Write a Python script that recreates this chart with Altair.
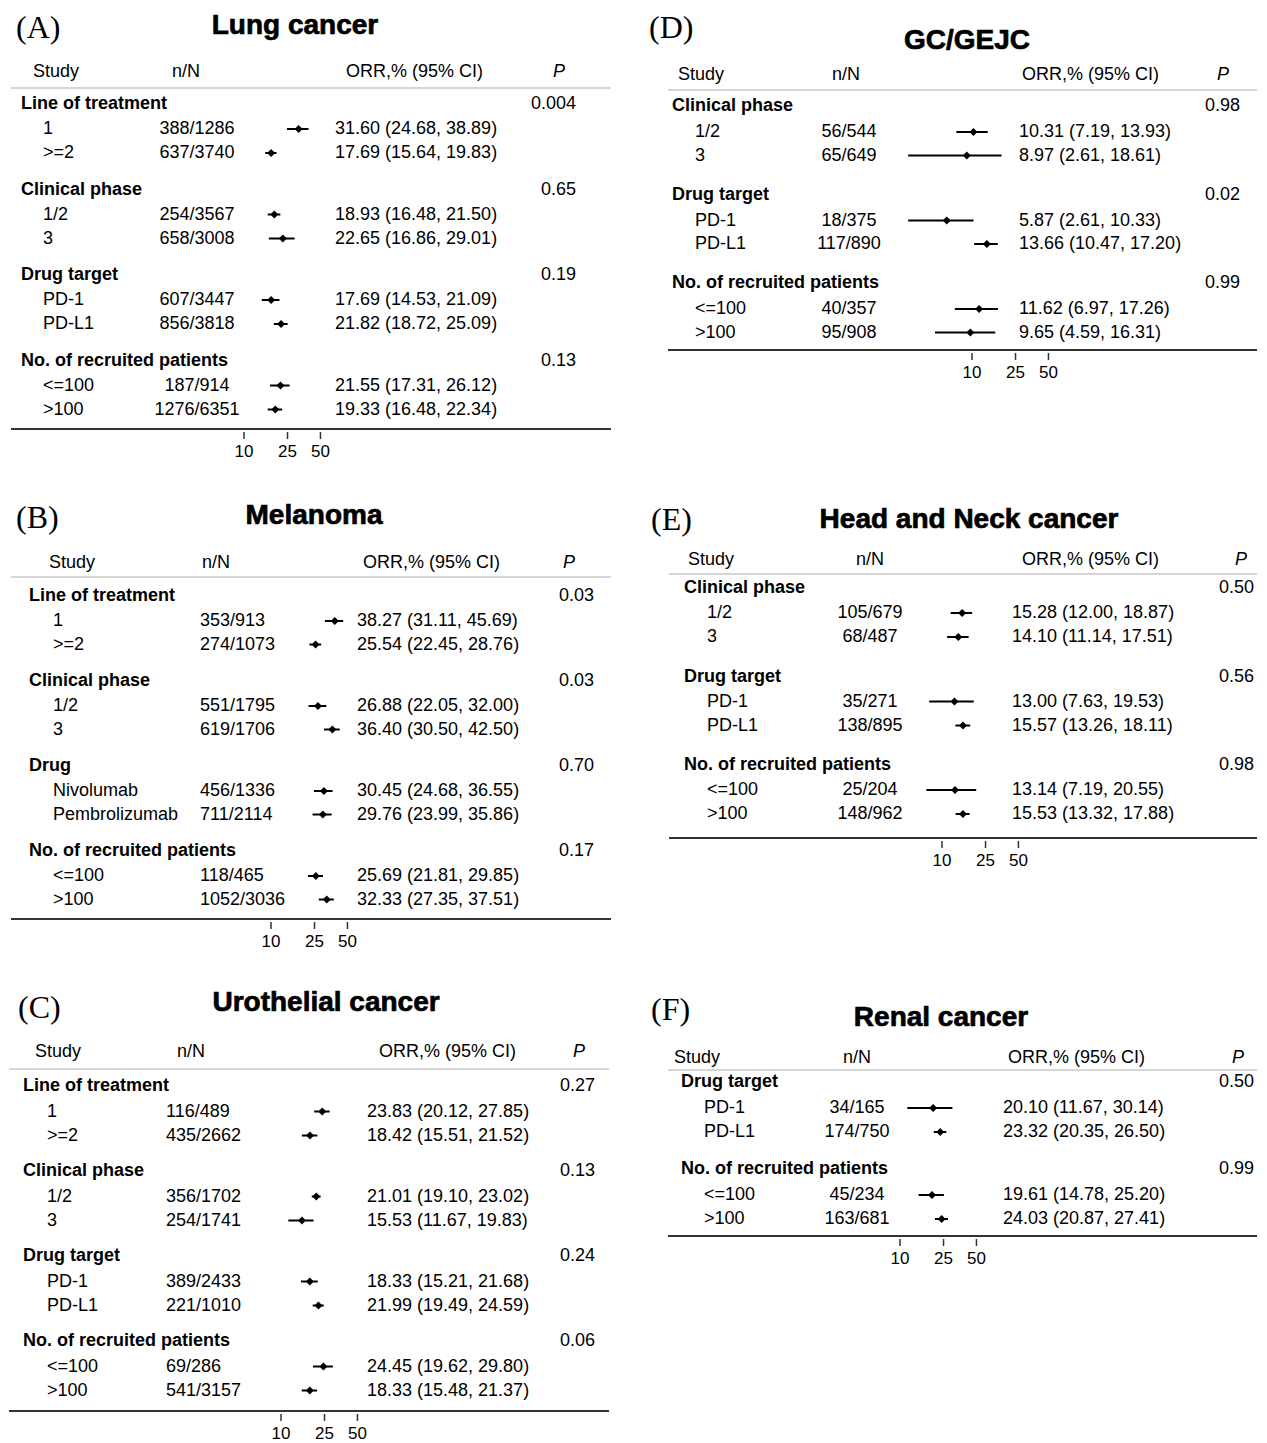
import math
import altair as alt
import pandas as pd

# ------------------------------------------------------------------ data
A_title = "Lung cancer"
A_groups = ["Line of treatment", "Clinical phase", "Drug target", "No. of recruited patients"]
A_pvals = ["0.004", "0.65", "0.19", "0.13"]
A_items = ["1", ">=2", "1/2", "3", "PD-1", "PD-L1", "<=100", ">100"]
A_nN = ["388/1286", "637/3740", "254/3567", "658/3008", "607/3447", "856/3818", "187/914", "1276/6351"]
A_orr = [31.60, 17.69, 18.93, 22.65, 17.69, 21.82, 21.55, 19.33]
A_lo = [24.68, 15.64, 16.48, 16.86, 14.53, 18.72, 17.31, 16.48]
A_hi = [38.89, 19.83, 21.50, 29.01, 21.09, 25.09, 26.12, 22.34]

B_title = "Melanoma"
B_groups = ["Line of treatment", "Clinical phase", "Drug", "No. of recruited patients"]
B_pvals = ["0.03", "0.03", "0.70", "0.17"]
B_items = ["1", ">=2", "1/2", "3", "Nivolumab", "Pembrolizumab", "<=100", ">100"]
B_nN = ["353/913", "274/1073", "551/1795", "619/1706", "456/1336", "711/2114", "118/465", "1052/3036"]
B_orr = [38.27, 25.54, 26.88, 36.40, 30.45, 29.76, 25.69, 32.33]
B_lo = [31.11, 22.45, 22.05, 30.50, 24.68, 23.99, 21.81, 27.35]
B_hi = [45.69, 28.76, 32.00, 42.50, 36.55, 35.86, 29.85, 37.51]

C_title = "Urothelial cancer"
C_groups = ["Line of treatment", "Clinical phase", "Drug target", "No. of recruited patients"]
C_pvals = ["0.27", "0.13", "0.24", "0.06"]
C_items = ["1", ">=2", "1/2", "3", "PD-1", "PD-L1", "<=100", ">100"]
C_nN = ["116/489", "435/2662", "356/1702", "254/1741", "389/2433", "221/1010", "69/286", "541/3157"]
C_orr = [23.83, 18.42, 21.01, 15.53, 18.33, 21.99, 24.45, 18.33]
C_lo = [20.12, 15.51, 19.10, 11.67, 15.21, 19.49, 19.62, 15.48]
C_hi = [27.85, 21.52, 23.02, 19.83, 21.68, 24.59, 29.80, 21.37]

D_title = "GC/GEJC"
D_groups = ["Clinical phase", "Drug target", "No. of recruited patients"]
D_pvals = ["0.98", "0.02", "0.99"]
D_items = ["1/2", "3", "PD-1", "PD-L1", "<=100", ">100"]
D_nN = ["56/544", "65/649", "18/375", "117/890", "40/357", "95/908"]
D_orr = [10.31, 8.97, 5.87, 13.66, 11.62, 9.65]
D_lo = [7.19, 2.61, 2.61, 10.47, 6.97, 4.59]
D_hi = [13.93, 18.61, 10.33, 17.20, 17.26, 16.31]

E_title = "Head and Neck cancer"
E_groups = ["Clinical phase", "Drug target", "No. of recruited patients"]
E_pvals = ["0.50", "0.56", "0.98"]
E_items = ["1/2", "3", "PD-1", "PD-L1", "<=100", ">100"]
E_nN = ["105/679", "68/487", "35/271", "138/895", "25/204", "148/962"]
E_orr = [15.28, 14.10, 13.00, 15.57, 13.14, 15.53]
E_lo = [12.00, 11.14, 7.63, 13.26, 7.19, 13.32]
E_hi = [18.87, 17.51, 19.53, 18.11, 20.55, 17.88]

F_title = "Renal cancer"
F_groups = ["Drug target", "No. of recruited patients"]
F_pvals = ["0.50", "0.99"]
F_items = ["PD-1", "PD-L1", "<=100", ">100"]
F_nN = ["34/165", "174/750", "45/234", "163/681"]
F_orr = [20.10, 23.32, 19.61, 24.03]
F_lo = [11.67, 20.35, 14.78, 20.87]
F_hi = [30.14, 26.50, 25.20, 27.41]

TICKS = [10, 25, 50]
HEAD_STUDY = "Study"
HEAD_NN = "n/N"
HEAD_ORR = "ORR,% (95% CI)"
HEAD_P = "P"

# ------------------------------------------------------------------ layout (cell-local pixels)
W = 612
ROW_H = [482, 490, 463]
K = 47.5  # pixels per natural-log unit on the ORR axis
FONT = "Liberation Sans"
SERIF = "Liberation Serif"

LAYOUT = {
    "A": dict(letter="(A)", lx=7, ly=20, tx=286, ty=18, hy=64, sx=24, nhx=177, ohx=337, phx=550,
              line_y=80, x0=2, x1=602, first=96, gap=85.5, hdr=25, item=24, gx=12, ix=34,
              nx=188, nalign="center", ox=326, pr=567, bottom=421, x10=235),
    "B": dict(letter="(B)", lx=7, ly=28, tx=305, ty=26, hy=73, sx=40, nhx=207, ohx=354, phx=560,
              line_y=87, x0=2, x1=602, first=106, gap=85, hdr=25, item=23.5, gx=20, ix=44,
              nx=191, nalign="left", ox=348, pr=585, bottom=429, x10=262),
    "C": dict(letter="(C)", lx=9, ly=28, tx=317, ty=23, hy=72, sx=26, nhx=182, ohx=370, phx=570,
              line_y=89, x0=0, x1=600, first=106, gap=85, hdr=25.5, item=24, gx=14, ix=38,
              nx=157, nalign="left", ox=358, pr=586, bottom=431, x10=272),
    "D": dict(letter="(D)", lx=4, ly=20, tx=322, ty=33, hy=67, sx=33, nhx=201, ohx=377, phx=578,
              line_y=82, x0=23, x1=612, first=98, gap=88.5, hdr=26, item=23.5, gx=27, ix=50,
              nx=204, nalign="center", ox=374, pr=595, bottom=342, x10=327),
    "E": dict(letter="(E)", lx=6, ly=30, tx=324, ty=30, hy=70, sx=43, nhx=225, ohx=377, phx=596,
              line_y=84, x0=24, x1=612, first=98, gap=88.5, hdr=25, item=24, gx=39, ix=62,
              nx=225, nalign="center", ox=367, pr=609, bottom=348, x10=297),
    "F": dict(letter="(F)", lx=6, ly=30, tx=296, ty=38, hy=78, sx=29, nhx=212, ohx=363, phx=593,
              line_y=90, x0=23, x1=612, first=102, gap=87, hdr=26, item=24, gx=36, ix=59,
              nx=212, nalign="center", ox=358, pr=609, bottom=256, x10=255),
}

PANELS = {
    "A": (A_title, A_groups, A_pvals, A_items, A_nN, A_orr, A_lo, A_hi),
    "B": (B_title, B_groups, B_pvals, B_items, B_nN, B_orr, B_lo, B_hi),
    "C": (C_title, C_groups, C_pvals, C_items, C_nN, C_orr, C_lo, C_hi),
    "D": (D_title, D_groups, D_pvals, D_items, D_nN, D_orr, D_lo, D_hi),
    "E": (E_title, E_groups, E_pvals, E_items, E_nN, E_orr, E_lo, E_hi),
    "F": (F_title, F_groups, F_pvals, F_items, F_nN, F_orr, F_lo, F_hi),
}


def panel(key, H):
    title, groups, pvals, items, nN, orr, lo, hi = PANELS[key]
    L = LAYOUT[key]
    grows, irows = [], []
    for g, name in enumerate(groups):
        gy = L["first"] + g * L["gap"]
        grows.append(dict(y=gy, label=name, p=pvals[g]))
        for k in range(2):
            i = 2 * g + k
            irows.append(dict(
                y=gy + L["hdr"] + k * L["item"],
                label=items[i], nn=nN[i], orr=orr[i], lo=lo[i], hi=hi[i],
                txt=f"{orr[i]:.2f} ({lo[i]:.2f}, {hi[i]:.2f})",
            ))
    dg = pd.DataFrame(grows)
    di = pd.DataFrame(irows)
    dt = pd.DataFrame({"t": TICKS, "lab": [str(t) for t in TICKS]})
    one = pd.DataFrame({"a": [0]})

    span = K * math.log(10)
    xs = alt.Scale(type="log", domain=[1, 100], range=[L["x10"] - span, L["x10"] + span], nice=False)
    ys = alt.Scale(domain=[0, H], range=[0, H], nice=False, zero=False)
    Y = alt.Y("y:Q", scale=ys, axis=None)

    def txt(df, x, align="left", **kw):
        return alt.Chart(df).mark_text(align=align, baseline="middle", font=FONT, fontSize=18,
                                       color="black", **kw).encode(x=alt.value(x), y=Y)

    def const_text(s, x, y, align="left", font=FONT, size=18, **kw):
        return alt.Chart(one).mark_text(align=align, baseline="middle", font=font, fontSize=size,
                                        color="black", **kw).encode(
            x=alt.value(x), y=alt.value(y), text=alt.value(s))

    layers = [
        const_text(L["letter"], L["lx"], L["ly"], font=SERIF, size=32),
        const_text(title, L["tx"], L["ty"], align="center", size=28, fontWeight="bold",
                   stroke="black", strokeWidth=0.7),
        const_text(HEAD_STUDY, L["sx"], L["hy"]),
        const_text(HEAD_NN, L["nhx"], L["hy"], align="center"),
        const_text(HEAD_ORR, L["ohx"], L["hy"]),
        const_text(HEAD_P, L["phx"], L["hy"], align="center", fontStyle="italic"),
        alt.Chart(one).mark_rule(color="#c8c8c8", strokeWidth=1.5).encode(
            x=alt.value(L["x0"]), x2=alt.value(L["x1"]), y=alt.value(L["line_y"])),
        alt.Chart(one).mark_rule(color="#333333", strokeWidth=1.8).encode(
            x=alt.value(L["x0"]), x2=alt.value(L["x1"]), y=alt.value(L["bottom"])),
        txt(dg, L["gx"], fontWeight="bold").encode(text="label:N"),
        txt(dg, L["pr"], align="right").encode(text="p:N"),
        txt(di, L["ix"]).encode(text="label:N"),
        txt(di, L["nx"], align=L["nalign"]).encode(text="nn:N"),
        txt(di, L["ox"]).encode(text="txt:N"),
        alt.Chart(di).mark_rule(color="black", strokeWidth=2).encode(
            x=alt.X("lo:Q", scale=xs, axis=None), x2="hi:Q", y=Y),
        alt.Chart(di).mark_point(shape="diamond", filled=True, size=64, color="black", opacity=1).encode(
            x=alt.X("orr:Q", scale=xs, axis=None), y=Y),
        alt.Chart(dt).mark_rule(color="#333333", strokeWidth=1.5).encode(
            x=alt.X("t:Q", scale=xs, axis=None), y=alt.value(L["bottom"] + 3), y2=alt.value(L["bottom"] + 10)),
        alt.Chart(dt).mark_text(align="center", baseline="middle", font=FONT, fontSize=17, color="black").encode(
            x=alt.X("t:Q", scale=xs, axis=None), y=alt.value(L["bottom"] + 23), text="lab:N"),
    ]
    return alt.layer(*layers).properties(width=W, height=H)


cells = []
for (left, right), H in zip([("A", "D"), ("B", "E"), ("C", "F")], ROW_H):
    cells.append(panel(left, H))
    cells.append(panel(right, H))

chart = (
    alt.concat(*cells, columns=2, spacing=alt.RowColnumber(row=0, column=24), bounds="flush")
    .resolve_scale(x="independent", y="independent")
    .properties(padding=0)
    .configure_view(strokeWidth=0)
)

chart.save("out.html", embed_options={"renderer": "svg", "actions": False})
